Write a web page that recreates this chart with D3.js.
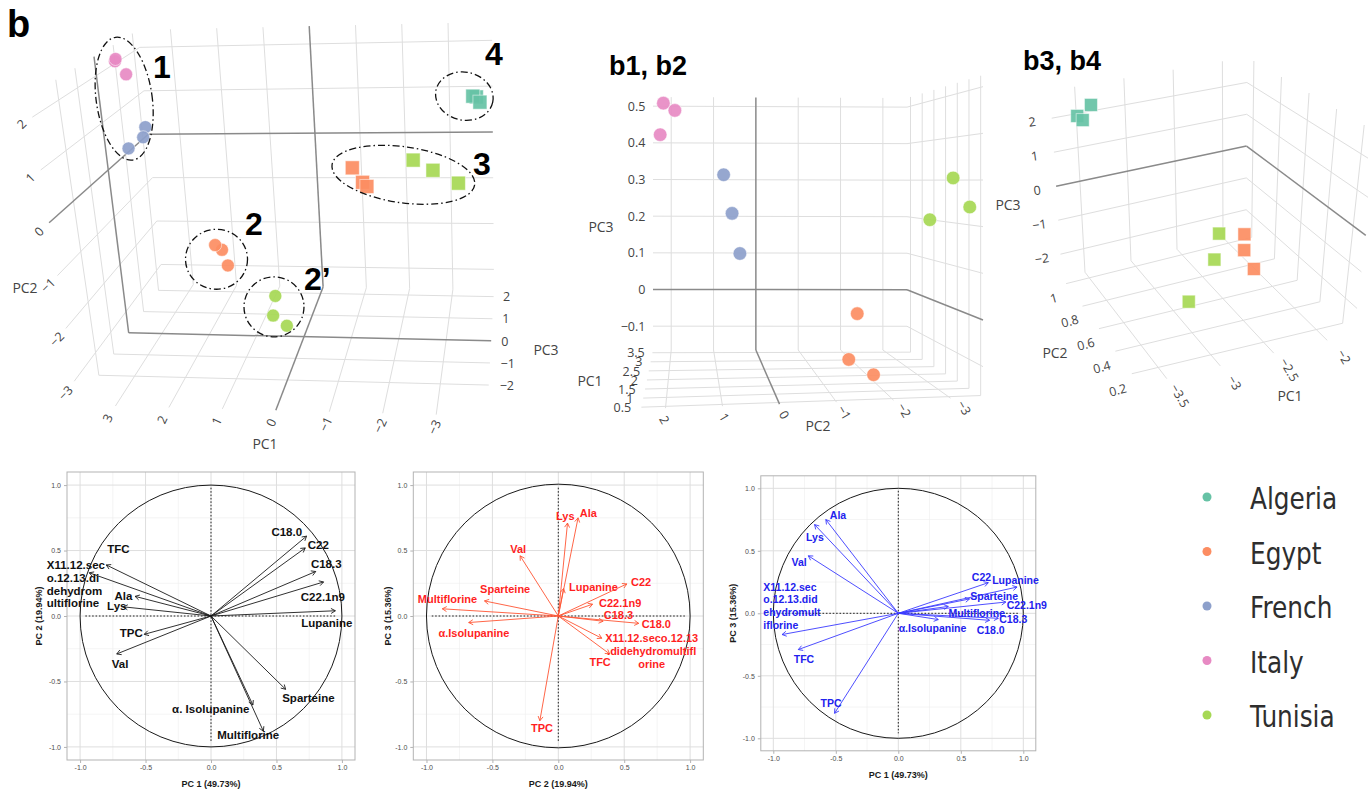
<!DOCTYPE html>
<html>
<head>
<meta charset="utf-8">
<title>PCA of lupin samples</title>
<script src="https://cdn.jsdelivr.net/npm/d3@7/dist/d3.min.js"></script>
<style>
  html, body { margin: 0; padding: 0; background: #ffffff; }
  svg { display: block; }
  .tick3d { font-family: "Open Sans", "DejaVu Sans", sans-serif; font-size: 12.5px; fill: #444; }
  .title3d { font-family: "Open Sans", "DejaVu Sans", sans-serif; font-size: 14px; fill: #444; }
  .tag { font-family: "Liberation Sans", Arial, sans-serif; font-weight: bold; fill: #000; }
  .bp-tick { font-family: "Liberation Sans", Arial, sans-serif; font-size: 7px; fill: #4d4d4d; }
  .bp-title { font-family: "Liberation Sans", Arial, sans-serif; font-size: 9px; font-weight: bold; fill: #1a1a1a; }
</style>
</head>
<body>
<script>
// ---------------- sample scores (all samples; panel b and b1, b2) ----------------
const sampleCountry = ["Italy","Italy","Italy","French","French","French",
                       "Egypt","Egypt","Egypt","Tunisia","Tunisia","Tunisia",
                       "Algeria","Algeria","Algeria","Egypt","Egypt","Egypt",
                       "Tunisia","Tunisia","Tunisia"];
const sampleMarker  = ["circle","circle","circle","circle","circle","circle",
                       "circle","circle","circle","circle","circle","circle",
                       "square","square","square","square","square","square",
                       "square","square","square"];
const scorePC1 = [3.50, 3.30, 3.45, 2.97, 3.00, 3.28, 1.56, 1.66, 1.43, 0.69, 0.40, 0.59,
                  -3.53, -3.69, -3.60, -1.49, -1.68, -1.77, -2.57, -2.96, -3.43];
const scorePC2 = [2.17, 1.89, 2.24, 0.805, 0.62, 0.42, -1.67, -1.53, -1.94, -3.16, -3.34, -2.71,
                  0.85, 0.75, 0.80, 0.55, 0.30, 0.25, 0.52, 0.38, 0.10];
const scorePC3 = [0.507, 0.486, 0.422, 0.317, 0.217, 0.107, -0.005, -0.114, -0.143, 0.306, 0.243, 0.217,
                  2.10, 2.00, 2.20, -1.70, -1.80, -1.90, -1.10, -1.30, -1.20];

// ---------------- square-marker samples, separate analysis (b3, b4) ----------------
const subCountry = ["Algeria","Algeria","Algeria","Egypt","Egypt","Egypt","Tunisia","Tunisia","Tunisia"];
const subPC1 = [-3.39, -3.55, -3.54, -1.89, -1.95, -2.08, -2.65, -2.79, -3.12];
const subPC2 = [1.00, 0.98, 0.93, 0.95, 0.90, 0.70, 0.50, 0.40, 0.30];
const subPC3 = [2.33, 2.14, 2.14, -2.34, -2.62, -2.45, -0.47, -0.83, -1.49];

// ---------------- variable loadings (correlation circles) ----------------
const variables = ["C18.0","C22","C18.3","C22.1n9","Lupanine","Sparteine","α.Isolupanine",
                   "Multiflorine","TFC","X11.12.seco.12.13.didehydromultiflorine","Ala","Lys","TPC","Val"];
const loadPC1 = [0.73, 0.72, 0.80, 0.86, 0.95, 0.57, 0.32, 0.40, -0.80, -0.93, -0.58, -0.67, -0.51, -0.72];
const loadPC2 = [0.61, 0.52, 0.34, 0.26, 0.04, -0.56, -0.68, -0.88, 0.39, 0.33, 0.15, 0.07, -0.14, -0.29];
const loadPC3 = [-0.056, 0.245, -0.04, 0.09, 0.21, 0.115, -0.05, 0.055, -0.29, -0.17, 0.75, 0.71, -0.80, 0.46];
const varianceLabels = ["PC 1 (49.73%)", "PC 2 (19.94%)", "PC 3 (15.36%)"];

// ---------------- legend ----------------
const countries = ["Algeria","Egypt","French","Italy","Tunisia"];
const countryColors = ["#66c2a5","#fc8d62","#8da0cb","#e78ac3","#a6d854"];

// ---------------- 3D axis ticks ----------------
const ticksMainPC1 = [3, 2, 1, 0, -1, -2, -3];
const ticksMainPC2 = [-3, -2, -1, 0, 1, 2];
const ticksMainPC3 = [-2, -1, 0, 1, 2];
const ticksB12PC1 = [0.5, 1, 1.5, 2, 2.5, 3, 3.5];
const ticksB12PC2 = [2, 1, 0, -1, -2, -3];
const ticksB12PC3 = [-0.1, 0, 0.1, 0.2, 0.3, 0.4, 0.5];
const ticksB34PC1 = [-3.5, -3, -2.5, -2];
const ticksB34PC2 = [0.2, 0.4, 0.6, 0.8, 1];
const ticksB34PC3 = [-2, -1, 0, 1, 2];
const circleTicks = [-1, -0.5, 0, 0.5, 1];
const circleMinorTicks = [-0.75, -0.25, 0.25, 0.75];

// =====================================================================
const W = 1368, H = 792;
const svg = d3.select("body").append("svg").attr("width", W).attr("height", H);
svg.append("rect").attr("width", W).attr("height", H).attr("fill", "#fff");
const colorOf = d3.scaleOrdinal().domain(countries).range(countryColors);
const fmtMinus = d => (d < 0 ? "\u2212" + Math.abs(d) : String(d));

// trilinear map of the unit cube onto the eight projected box corners
function project(c, u, v, w) {
  let x = 0, y = 0;
  for (let i = 0; i < 2; i++) for (let j = 0; j < 2; j++) for (let k = 0; k < 2; k++) {
    const wt = (i ? u : 1 - u) * (j ? v : 1 - v) * (k ? w : 1 - w);
    const p = c[`${i}${j}${k}`];
    x += wt * p[0]; y += wt * p[1];
  }
  return [x, y];
}

function drawScene(cfg) {
  const g = svg.append("g");
  const P = q => project(cfg.corners, q.u, q.v, q.w);
  const dims = ["u", "v", "w"];
  const gridG = g.append("g"), zeroG = g.append("g");
  cfg.walls.forEach(wall => {
    const free = dims.filter(a => a !== wall.fix);
    free.forEach((a, idx) => {
      const b = free[1 - idx];
      const ax = cfg.axes[a];
      ax.ticks.forEach(t => {
        const s = ax.scale(t);
        const p0 = P({[wall.fix]: wall.at, [a]: s, [b]: 0});
        const p1 = P({[wall.fix]: wall.at, [a]: s, [b]: 1});
        (t === 0 ? zeroG : gridG).append("line")
          .attr("x1", p0[0]).attr("y1", p0[1]).attr("x2", p1[0]).attr("y2", p1[1])
          .attr("stroke", t === 0 ? "#8a8a8a" : "#dedede")
          .attr("stroke-width", t === 0 ? 1.5 : 1);
      });
    });
  });
  // tick labels
  dims.forEach(a => {
    const ax = cfg.axes[a];
    ax.ticks.forEach(t => {
      const [x, y] = P(ax.labelAt(ax.scale(t)));
      g.append("text").attr("class", "tick3d")
        .attr("transform", `translate(${x},${y}) rotate(${ax.rotate || 0})`)
        .attr("text-anchor", ax.anchor || "middle")
        .attr("dominant-baseline", "central")
        .text(fmtMinus(t));
    });
  });
  cfg.titles.forEach(t => {
    g.append("text").attr("class", "title3d").attr("x", t.x).attr("y", t.y)
      .attr("text-anchor", "middle").attr("dominant-baseline", "central").text(t.text);
  });
  // markers, far ones first
  const pts = cfg.index.map(i => {
    const q = {u: cfg.axes.u.scale(cfg.axes.u.values[i]),
               v: cfg.axes.v.scale(cfg.axes.v.values[i]),
               w: cfg.axes.w.scale(cfg.axes.w.values[i])};
    const [x, y] = P(q);
    return {i, x, y, depth: cfg.depth(q), country: cfg.country[i], marker: cfg.marker(i)};
  }).sort((a, b) => b.depth - a.depth);
  const mg = g.append("g");
  pts.forEach(p => {
    if (p.marker === "square") {
      const s = cfg.squareSize;
      mg.append("rect").attr("x", p.x - s / 2).attr("y", p.y - s / 2).attr("width", s).attr("height", s)
        .attr("fill", colorOf(p.country)).attr("fill-opacity", 0.92)
        .attr("stroke", "#ffffff").attr("stroke-opacity", 0.5).attr("stroke-width", 1);
    } else {
      mg.append("circle").attr("cx", p.x).attr("cy", p.y).attr("r", cfg.radius)
        .attr("fill", colorOf(p.country)).attr("fill-opacity", 0.92)
        .attr("stroke", "#ffffff").attr("stroke-opacity", 0.5).attr("stroke-width", 1);
    }
  });
  return pts;
}

// ---------------- panel b: all samples ----------------
const allIdx = d3.range(sampleCountry.length);
const mainPts = drawScene({
  corners: {"000": [78, 405], "100": [487, 416], "010": [29, 96], "110": [477, 90],
            "001": [163, 284], "101": [494, 290], "011": [138, 30], "111": [492, 22]},
  axes: {
    u: {scale: d3.scaleLinear().domain([3.7, -3.95]).range([0, 1]), ticks: ticksMainPC1, values: scorePC1,
        labelAt: s => ({u: s, v: 0, w: -0.1}), rotate: -65},
    v: {scale: d3.scaleLinear().domain([-3.45, 2.4]).range([0, 1]), ticks: ticksMainPC2, values: scorePC2,
        labelAt: s => ({u: 0, v: s, w: -0.1}), rotate: -45},
    w: {scale: d3.scaleLinear().domain([-3.4, 2.3]).range([0, 1]), ticks: ticksMainPC3, values: scorePC3,
        labelAt: s => ({u: 1.028, v: 0, w: s}), anchor: "start"}
  },
  walls: [{fix: "w", at: 1}, {fix: "u", at: 0}, {fix: "v", at: 0}],
  titles: [{text: "PC1", x: 265, y: 443}, {text: "PC2", x: 25, y: 287}, {text: "PC3", x: 546, y: 349}],
  index: allIdx, country: sampleCountry, marker: i => sampleMarker[i],
  depth: q => q.w, radius: 6.5, squareSize: 14
});

// cluster outlines around the projected groups
const clusters = [
  {tag: "1", members: i => (sampleCountry[i] === "Italy" || sampleCountry[i] === "French"), rx: 28, ry: 62, rot: -8, nudge: [-6, -5], tx: 153, ty: 78},
  {tag: "2", members: i => sampleCountry[i] === "Egypt" && sampleMarker[i] === "circle", rx: 31, ry: 30, rot: 0, nudge: [-5, 4], tx: 245, ty: 235},
  {tag: "2\u2019", members: i => sampleCountry[i] === "Tunisia" && sampleMarker[i] === "circle", rx: 30, ry: 30, rot: 0, nudge: [-6, -4], tx: 304, ty: 290},
  {tag: "3", members: i => sampleMarker[i] === "square" && sampleCountry[i] !== "Algeria", rx: 72, ry: 28, rot: 8, nudge: [-2, 1.5], tx: 473, ty: 175},
  {tag: "4", members: i => sampleCountry[i] === "Algeria", rx: 29, ry: 24, rot: 12, nudge: [-12, -3], tx: 485, ty: 65}
];
const annG = svg.append("g");
clusters.forEach(c => {
  const pts = mainPts.filter(p => c.members(p.i));
  const cx = (d3.min(pts, p => p.x) + d3.max(pts, p => p.x)) / 2 + c.nudge[0];
  const cy = (d3.min(pts, p => p.y) + d3.max(pts, p => p.y)) / 2 + c.nudge[1];
  annG.append("ellipse").attr("transform", `translate(${cx},${cy}) rotate(${c.rot})`)
    .attr("rx", c.rx).attr("ry", c.ry).attr("fill", "none")
    .attr("stroke", "#111").attr("stroke-width", 1.3).attr("stroke-dasharray", "7,3,1.5,3");
  annG.append("text").attr("class", "tag").attr("x", c.tx).attr("y", c.ty)
    .attr("font-size", 32).text(c.tag);
});
svg.append("text").attr("class", "tag").attr("x", 7).attr("y", 37).attr("font-size", 38).text("b");

// ---------------- b1, b2: circle-marker samples ----------------
const circleIdx = allIdx.filter(i => sampleMarker[i] === "circle");
drawScene({
  corners: {"000": [641, 409], "100": [983, 397], "010": [635, 85], "110": [983, 75],
            "001": [653, 350], "101": [907, 350], "011": [653, 97], "111": [907, 98]},
  axes: {
    u: {scale: d3.scaleLinear().domain([2.43, -3.57]).range([0, 1]), ticks: ticksB12PC2, values: scorePC2,
        labelAt: s => ({u: s, v: 0, w: -0.2}), rotate: 60},
    v: {scale: d3.scaleLinear().domain([-0.165, 0.525]).range([0, 1]), ticks: ticksB12PC3, values: scorePC3,
        labelAt: s => ({u: -0.03, v: s, w: 1}), anchor: "end"},
    w: {scale: d3.scaleLinear().domain([0.4, 3.65]).range([0, 1]), ticks: ticksB12PC1, values: scorePC1,
        labelAt: s => ({u: -0.03, v: 0, w: s}), anchor: "end"}
  },
  walls: [{fix: "w", at: 1}, {fix: "v", at: 0}, {fix: "u", at: 1}],
  titles: [{text: "PC3", x: 601, y: 226}, {text: "PC1", x: 590, y: 380}, {text: "PC2", x: 818, y: 425}],
  index: circleIdx, country: sampleCountry, marker: () => "circle",
  depth: q => q.w, radius: 6.8, squareSize: 13
});
svg.append("text").attr("class", "tag").attr("x", 609).attr("y", 75).attr("font-size", 27).text("b1, b2");

// ---------------- b3, b4: square-marker samples ----------------
drawScene({
  corners: {"000": [1140, 385], "100": [1354, 334], "010": [1062, 278], "110": [1246, 232],
            "001": [1130, 170], "101": [1378, 133], "011": [1050, 91], "111": [1247, 57]},
  axes: {
    u: {scale: d3.scaleLinear().domain([-3.75, -1.75]).range([0, 1]), ticks: ticksB34PC1, values: subPC1,
        labelAt: s => ({u: s, v: -0.16, w: 0}), rotate: 60},
    v: {scale: d3.scaleLinear().domain([0.1, 1.05]).range([0, 1]), ticks: ticksB34PC2, values: subPC2,
        labelAt: s => ({u: -0.07, v: s, w: -0.06}), rotate: -15},
    w: {scale: d3.scaleLinear().domain([-2.7, 2.8]).range([0, 1]), ticks: ticksB34PC3, values: subPC3,
        labelAt: s => ({u: -0.1, v: 1, w: s}), rotate: -8}
  },
  walls: [{fix: "v", at: 1}, {fix: "u", at: 1}, {fix: "w", at: 0}],
  titles: [{text: "PC3", x: 1008, y: 204}, {text: "PC2", x: 1055, y: 352}, {text: "PC1", x: 1290, y: 395}],
  index: d3.range(subCountry.length), country: subCountry, marker: () => "square",
  depth: q => q.u + q.v, radius: 6.5, squareSize: 13
});
svg.append("text").attr("class", "tag").attr("x", 1023).attr("y", 70).attr("font-size", 27).text("b3, b4");

// ---------------- correlation circles ----------------
function corrCircle(cfg) {
  const g = svg.append("g");
  const x = d3.scaleLinear().domain([-1.1, 1.1]).range([cfg.x0, cfg.x1]);
  const y = d3.scaleLinear().domain([-1.1, 1.1]).range([cfg.y1, cfg.y0]);
  circleMinorTicks.forEach(t => {
    g.append("line").attr("x1", x(t)).attr("x2", x(t)).attr("y1", cfg.y0).attr("y2", cfg.y1).attr("stroke", "#ececec").attr("stroke-width", 0.6);
    g.append("line").attr("y1", y(t)).attr("y2", y(t)).attr("x1", cfg.x0).attr("x2", cfg.x1).attr("stroke", "#ececec").attr("stroke-width", 0.6);
  });
  circleTicks.forEach(t => {
    g.append("line").attr("x1", x(t)).attr("x2", x(t)).attr("y1", cfg.y0).attr("y2", cfg.y1).attr("stroke", "#dedede").attr("stroke-width", 1);
    g.append("line").attr("y1", y(t)).attr("y2", y(t)).attr("x1", cfg.x0).attr("x2", cfg.x1).attr("stroke", "#dedede").attr("stroke-width", 1);
  });
  g.append("rect").attr("x", cfg.x0).attr("y", cfg.y0).attr("width", cfg.x1 - cfg.x0).attr("height", cfg.y1 - cfg.y0)
    .attr("fill", "none").attr("stroke", "#b3b3b3").attr("stroke-width", 1);
  const fmt = d => d.toFixed(1);
  const ax = g.append("g").attr("transform", `translate(0,${cfg.y1})`)
    .call(d3.axisBottom(x).tickValues(circleTicks).tickFormat(fmt).tickSize(3).tickPadding(2));
  const ay = g.append("g").attr("transform", `translate(${cfg.x0},0)`)
    .call(d3.axisLeft(y).tickValues(circleTicks).tickFormat(fmt).tickSize(3).tickPadding(3));
  [ax, ay].forEach(a => {
    a.select(".domain").remove();
    a.selectAll(".tick line").attr("stroke", "#b3b3b3");
    a.selectAll(".tick text").attr("class", "bp-tick").attr("fill", null).attr("font-size", null).attr("font-family", null);
  });
  g.append("text").attr("class", "bp-title").attr("x", (cfg.x0 + cfg.x1) / 2).attr("y", cfg.y1 + 27)
    .attr("text-anchor", "middle").text(cfg.xTitle);
  g.append("text").attr("class", "bp-title")
    .attr("transform", `translate(${cfg.yTitleX},${(cfg.y0 + cfg.y1) / 2}) rotate(-90)`)
    .attr("text-anchor", "middle").text(cfg.yTitle);
  // unit circle and reference lines
  g.append("circle").attr("cx", x(0)).attr("cy", y(0)).attr("r", x(1) - x(0))
    .attr("fill", "none").attr("stroke", "#1a1a1a").attr("stroke-width", 1);
  g.append("line").attr("x1", x(0)).attr("x2", x(0)).attr("y1", y(0.98)).attr("y2", y(-0.96))
    .attr("stroke", "#222").attr("stroke-width", 1).attr("stroke-dasharray", "1.6,1.8");
  g.append("line").attr("x1", x(-0.96)).attr("x2", x(0.96)).attr("y1", y(0)).attr("y2", y(0))
    .attr("stroke", "#222").attr("stroke-width", 1).attr("stroke-dasharray", "1.6,1.8");
  // loading arrows
  variables.forEach((name, i) => {
    const x2 = x(cfg.xs[i]), y2 = y(cfg.ys[i]);
    g.append("line").attr("x1", x(0)).attr("y1", y(0)).attr("x2", x2).attr("y2", y2)
      .attr("stroke", cfg.arrowColor).attr("stroke-width", 0.9);
    const ang = Math.atan2(y2 - y(0), x2 - x(0));
    [-1, 1].forEach(sg => {
      const a = ang + Math.PI - sg * Math.PI / 6;
      g.append("line").attr("x1", x2).attr("y1", y2)
        .attr("x2", x2 + 5 * Math.cos(a)).attr("y2", y2 + 5 * Math.sin(a))
        .attr("stroke", cfg.arrowColor).attr("stroke-width", 0.9);
    });
    const lab = cfg.labels[name];
    const t = g.append("text").attr("x", x2 + lab[0]).attr("y", y2 + lab[1])
      .attr("text-anchor", lab[2] || "middle")
      .attr("font-family", "'Liberation Sans', Arial, sans-serif").attr("font-weight", "bold")
      .attr("font-size", cfg.fontSize).attr("fill", cfg.textColor);
    const lines = lab[3] || [name];
    lines.forEach((ln, k) => t.append("tspan").attr("x", x2 + lab[0]).attr("dy", k === 0 ? 0 : cfg.lineHeight).text(ln));
  });
}

corrCircle({
  x0: 67, x1: 355, y0: 472, y1: 760, xs: loadPC1, ys: loadPC2,
  xTitle: varianceLabels[0], yTitle: varianceLabels[1], yTitleX: 42,
  arrowColor: "#1a1a1a", textColor: "#111", fontSize: 11.5, lineHeight: 12.8,
  labels: {
    "C18.0": [-19.8, 0], "C22": [13, 1], "C18.3": [10.5, -3.2], "C22.1n9": [-0.7, 18.8],
    "Lupanine": [-8.5, 15.9], "Sparteine": [22.8, 12.3],
    "α.Isolupanine": [-42.1, 8.2, "middle", ["α. Isolupanine"]],
    "Multiflorine": [-15.1, 8], "TFC": [12.1, -11.6],
    "X11.12.seco.12.13.didehydromultiflorine": [-42.5, -3.8, "start", ["X11.12.sec", "o.12.13.di", "dehydrom", "ultiflorine"]],
    "Ala": [-11.7, 3.6], "Lys": [-6.5, 3.2], "TPC": [-12.9, 2.4], "Val": [3.3, 14.3]
  }
});

corrCircle({
  x0: 413.3, x1: 703.3, y0: 472, y1: 760, xs: loadPC2, ys: loadPC3,
  xTitle: varianceLabels[1], yTitle: varianceLabels[2], yTitleX: 391,
  arrowColor: "#ff5533", textColor: "#ff1f1f", fontSize: 11, lineHeight: 13,
  labels: {
    "Lys": [-2.2, -3], "Ala": [10.3, -1], "Val": [-1.9, -3], "Lupanine": [29.9, 2.2],
    "C22": [14.3, 2.1], "C22.1n9": [27.6, 2.5], "C18.3": [15.3, -2.2], "C18.0": [17.6, 4.7],
    "X11.12.seco.12.13.didehydromultiflorine": [49.9, 3.4, "middle", ["X11.12.seco.12.13", ".didehydromultifl", "orine"]],
    "TFC": [-9.6, 12], "TPC": [2.1, 11.2], "Sparteine": [20.7, -7.6], "Multiflorine": [5.2, -6.1],
    "α.Isolupanine": [5.2, 14.7]
  }
});

corrCircle({
  x0: 760.8, x1: 1035.8, y0: 475.8, y1: 750.8, xs: loadPC1, ys: loadPC3,
  xTitle: varianceLabels[0], yTitle: varianceLabels[2], yTitleX: 736,
  arrowColor: "#3a3aff", textColor: "#2222ee", fontSize: 10.5, lineHeight: 12.7,
  labels: {
    "Ala": [12.2, -0.6], "Lys": [0.4, 16.5], "Val": [-9.1, 10.2],
    "X11.12.seco.12.13.didehydromultiflorine": [-18.7, -43.9, "start", ["X11.12.sec", "o.12.13.did", "ehydromult", "iflorine"]],
    "TFC": [5.7, 13.1], "TPC": [-3.5, -6], "C22": [-6.8, -2], "Lupanine": [-1.5, -3.1],
    "Sparteine": [24.6, 1.1], "C22.1n9": [21, 7.3], "Multiflorine": [28.4, 10.3],
    "C18.3": [15, 5], "C18.0": [1.1, 14], "α.Isolupanine": [-5.8, 12.1]
  }
});

// ---------------- legend ----------------
const ly = d3.scalePoint().domain(countries).range([497, 715]);
const lg = svg.append("g");
countries.forEach(c => {
  lg.append("circle").attr("cx", 1207).attr("cy", ly(c)).attr("r", 4.5).attr("fill", colorOf(c));
  lg.append("text").attr("transform", `translate(1250,${ly(c) + 12}) scale(0.8,1)`)
    .attr("font-family", "'DejaVu Sans', Verdana, sans-serif").attr("font-size", 31)
    .attr("fill", "#2e2e2e").text(c);
});
</script>
</body>
</html>
